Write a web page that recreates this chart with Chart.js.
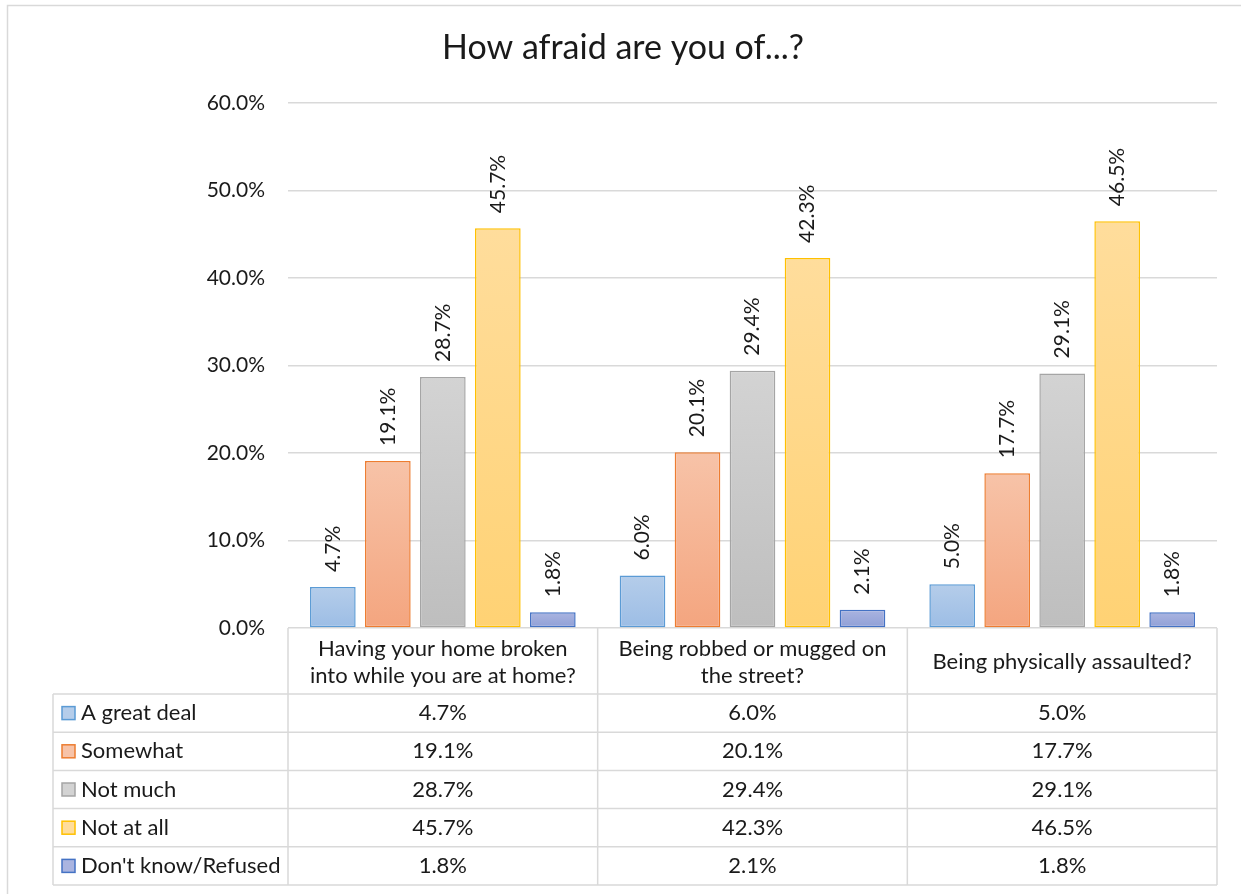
<!DOCTYPE html>
<html>
<head>
<meta charset="utf-8">
<script src="https://cdn.jsdelivr.net/npm/chart.js@4"></script>
<style>
  body { margin: 0; background: #fff; }
  canvas { display: block; }
</style>
</head>
<body>
<canvas id="fearChart" width="1241" height="894"></canvas>
<script>
// categories (multi-line, as wrapped in the original)
const categories = [
  ["Having your home broken", "into while you are at home?"],
  ["Being robbed or mugged on", "the street?"],
  ["Being physically assaulted?"]
];
const seriesNames = ["A great deal", "Somewhat", "Not much", "Not at all", "Don't know/Refused"];
const greatDeal = [4.7, 6.0, 5.0];
const somewhat = [19.1, 20.1, 17.7];
const notMuch = [28.7, 29.4, 29.1];
const notAtAll = [45.7, 42.3, 46.5];
const dontKnow = [1.8, 2.1, 1.8];
const yTicks = [0, 10, 20, 30, 40, 50, 60];

const FONT = "Lato, 'Open Sans', sans-serif";
const TEXT = "#1a1a1a";
const GRID = "#d9d9d9";

// [border, gradient top, gradient bottom]
const palette = [
  ["#5b9bd5", "#b5cdea", "#9cbde5"],
  ["#ed7d31", "#f7c3a8", "#f4a57f"],
  ["#a5a5a5", "#d3d3d3", "#bebebe"],
  ["#ffc000", "#ffdd9c", "#ffd274"],
  ["#4472c4", "#aab4e0", "#8f9fd6"]
];

function barFill(i) {
  return function (ctx) {
    const chart = ctx.chart;
    if (!chart.chartArea || !chart.scales.y || ctx.raw === undefined) return palette[i][2];
    const y = chart.scales.y;
    const top = y.getPixelForValue(ctx.raw);
    const base = y.getPixelForValue(0);
    if (!isFinite(top) || base - top < 1) return palette[i][2];
    const g = chart.ctx.createLinearGradient(0, top, 0, base);
    g.addColorStop(0, palette[i][1]);
    g.addColorStop(1, palette[i][2]);
    return g;
  };
}

const seriesData = [greatDeal, somewhat, notMuch, notAtAll, dontKnow];

const datasets = seriesData.map(function (d, i) {
  return {
    label: seriesNames[i],
    data: d,
    backgroundColor: barFill(i),
    borderColor: palette[i][0],
    borderWidth: 1.5,
    borderSkipped: false,
    categoryPercentage: 0.888,
    barPercentage: 0.83
  };
});

const TABLE_LEFT = 53;
const HEADER_H = 66;
const ROW_H = 38.2;

const extrasPlugin = {
  id: "extras",
  beforeDraw(chart) {
    const c = chart.ctx;
    c.save();
    c.fillStyle = "#fff";
    c.fillRect(0, 0, chart.width, chart.height);
    // chart frame: only top and left edges are inside the picture
    c.strokeStyle = GRID;
    c.lineWidth = 1.5;
    c.beginPath();
    c.moveTo(7.5, chart.height);
    c.lineTo(7.5, 5.5);
    c.lineTo(chart.width, 5.5);
    c.stroke();
    c.restore();
  },
  afterDatasetsDraw(chart) {
    const c = chart.ctx;
    const y = chart.scales.y;
    c.save();
    c.fillStyle = TEXT;
    c.font = "21px " + FONT;
    c.textAlign = "left";
    c.textBaseline = "middle";
    chart.data.datasets.forEach(function (ds, di) {
      const meta = chart.getDatasetMeta(di);
      meta.data.forEach(function (bar, i) {
        c.save();
        c.translate(bar.x, y.getPixelForValue(ds.data[i]) - 15);
        c.rotate(-Math.PI / 2);
        c.fillText(ds.data[i].toFixed(1) + "%", 0, 0);
        c.restore();
      });
    });
    c.restore();
  },
  afterDraw(chart) {
    const c = chart.ctx;
    const x = chart.scales.x;
    const area = chart.chartArea;
    const n = chart.data.labels.length;
    const colW = (area.right - area.left) / n;
    const top = area.bottom;
    const rowsTop = top + HEADER_H;
    const bottom = rowsTop + ROW_H * seriesNames.length;

    c.save();
    // title
    c.fillStyle = TEXT;
    c.font = "34px " + FONT;
    c.textAlign = "center";
    c.textBaseline = "middle";
    c.fillText("How afraid are you of...?", 623, 48);

    // table grid
    c.strokeStyle = GRID;
    c.lineWidth = 1.5;
    c.beginPath();
    for (let r = 0; r <= seriesNames.length; r++) {
      const yy = rowsTop + r * ROW_H;
      c.moveTo(TABLE_LEFT, yy);
      c.lineTo(area.right, yy);
    }
    c.moveTo(TABLE_LEFT, rowsTop);
    c.lineTo(TABLE_LEFT, bottom);
    for (let k = 0; k <= n; k++) {
      const xx = area.left + k * colW;
      c.moveTo(xx, top);
      c.lineTo(xx, bottom);
    }
    c.stroke();

    // header labels
    c.fillStyle = TEXT;
    c.font = "22px " + FONT;
    c.textAlign = "center";
    c.textBaseline = "middle";
    chart.data.labels.forEach(function (lab, i) {
      const cx = x.getPixelForValue(i);
      const lines = Array.isArray(lab) ? lab : [lab];
      const mid = top + HEADER_H / 2 + 1;
      const lh = 27;
      lines.forEach(function (ln, j) {
        c.fillText(ln, cx, mid + (j - (lines.length - 1) / 2) * lh);
      });
    });

    // rows
    chart.data.datasets.forEach(function (ds, r) {
      const cy = rowsTop + r * ROW_H + ROW_H / 2;
      // legend key
      c.fillStyle = palette[r][1];
      c.fillRect(62, cy - 6.5, 13, 13);
      c.strokeStyle = palette[r][0];
      c.lineWidth = 1.5;
      c.strokeRect(62, cy - 6.5, 13, 13);
      c.fillStyle = TEXT;
      c.textAlign = "left";
      c.fillText(ds.label, 81, cy);
      c.textAlign = "center";
      ds.data.forEach(function (v, i) {
        c.fillText(v.toFixed(1) + "%", x.getPixelForValue(i), cy);
      });
    });
    c.restore();
  }
};

new Chart(document.getElementById("fearChart"), {
  type: "bar",
  data: { labels: categories, datasets: datasets },
  options: {
    responsive: false,
    animation: false,
    layout: { padding: { top: 103, right: 24, bottom: 266, left: 0 } },
    plugins: {
      legend: { display: false },
      tooltip: { enabled: false },
      title: { display: false }
    },
    scales: {
      x: {
        display: false
      },
      y: {
        min: 0,
        max: 60,
        afterFit(scale) { scale.width = 288; },
        afterBuildTicks(scale) { scale.ticks = yTicks.map(function (v) { return { value: v }; }); },
        border: { display: false },
        grid: { color: GRID, lineWidth: 1.5, drawTicks: false },
        ticks: {
          padding: 23,
          color: TEXT,
          font: { family: FONT, size: 21 },
          callback: function (v) { return v.toFixed(1) + "%"; }
        }
      }
    }
  },
  plugins: [extrasPlugin]
});
</script>
</body>
</html>
